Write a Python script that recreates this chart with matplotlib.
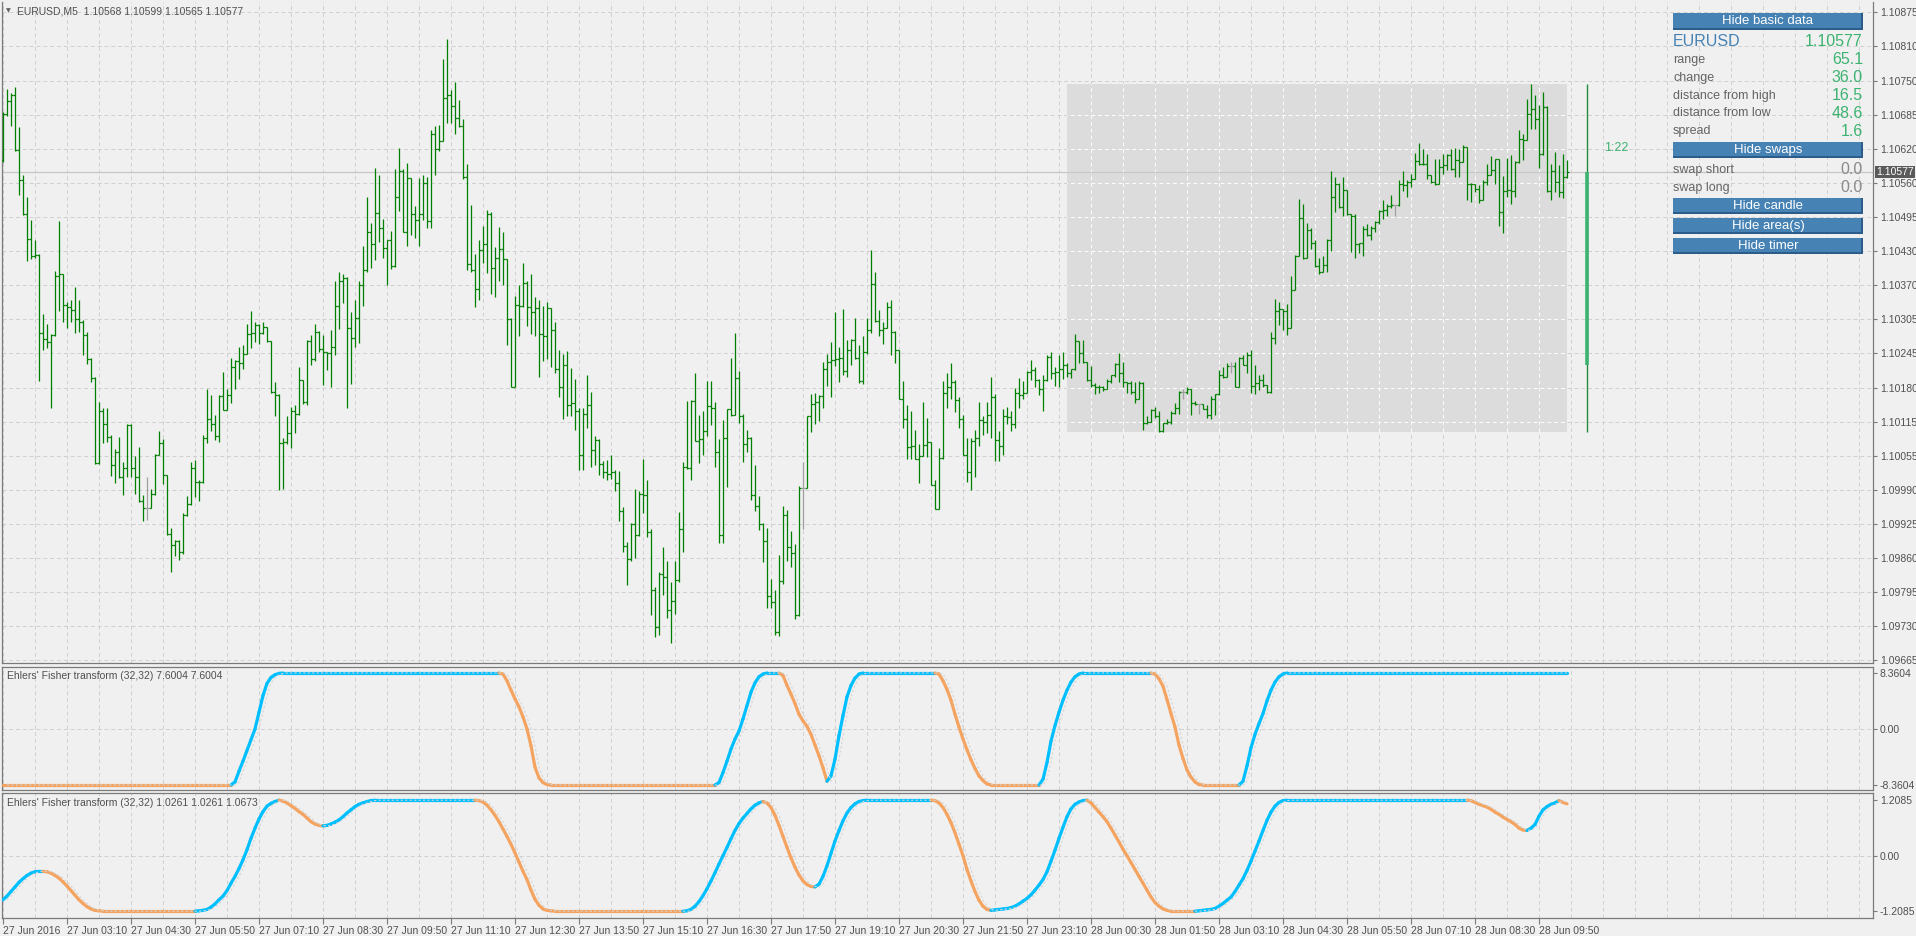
import numpy as np
import pandas as pd
import matplotlib
matplotlib.use("Agg")
import matplotlib.pyplot as plt
from matplotlib.collections import LineCollection
from matplotlib.patches import Rectangle

plt.rcParams['font.family'] = ['Liberation Sans', 'DejaVu Sans']

# --- EURUSD M5 bars, prices in points above 1.09000 (open = previous close) ---
first_open = 1600
high_pts = [
    1688, 1732, 1724, 1736, 1660, 1571, 1531, 1487, 1449, 1424,
    1312, 1293, 1274, 1392, 1486, 1387, 1335, 1338, 1362, 1338,
    1300, 1279, 1229, 1194, 1147, 1137, 1137, 1086, 1060, 1083,
    1035, 1106, 1107, 1046, 1064, 973, 1007, 985, 1050, 1093,
    1078, 1012, 912, 890, 890, 941, 972, 1035, 1039, 1001,
    1086, 1172, 1160, 1124, 1160, 1204, 1172, 1230, 1225, 1251,
    1254, 1293, 1318, 1296, 1293, 1296, 1288, 1261, 1185, 1162,
    1081, 1121, 1139, 1141, 1213, 1189, 1264, 1273, 1293, 1280,
    1273, 1240, 1282, 1373, 1390, 1387, 1381, 1316, 1337, 1373,
    1438, 1531, 1482, 1584, 1572, 1490, 1449, 1466, 1582, 1622,
    1582, 1593, 1566, 1514, 1566, 1572, 1568, 1656, 1663, 1665,
    1788, 1826, 1729, 1744, 1712, 1675, 1591, 1515, 1424, 1450,
    1476, 1505, 1503, 1437, 1474, 1464, 1414, 1305, 1346, 1365,
    1407, 1373, 1387, 1343, 1338, 1327, 1335, 1323, 1297, 1245,
    1238, 1242, 1211, 1191, 1136, 1136, 1197, 1166, 1084, 1078,
    1037, 1039, 1048, 1020, 1019, 951, 887, 921, 985, 981,
    1042, 1002, 911, 802, 830, 877, 850, 812, 850, 943,
    1035, 1149, 1151, 1201, 1124, 1131, 1186, 1186, 1147, 1078,
    1113, 1134, 1229, 1277, 1206, 1125, 1095, 1083, 1030, 972,
    922, 913, 818, 797, 862, 954, 946, 907, 883, 991,
    1035, 1122, 1162, 1164, 1160, 1223, 1238, 1259, 1316, 1251,
    1321, 1263, 1265, 1305, 1254, 1270, 1305, 1432, 1390, 1320,
    1297, 1335, 1338, 1280, 1245, 1186, 1141, 1130, 1096, 1069,
    1147, 1118, 1073, 1002, 1061, 1187, 1201, 1221, 1188, 1156,
    1124, 1080, 1080, 1096, 1148, 1122, 1147, 1194, 1163, 1093,
    1135, 1139, 1130, 1174, 1192, 1186, 1206, 1226, 1212, 1191,
    1198, 1235, 1240, 1212, 1236, 1240, 1221, 1210, 1274, 1259,
    1263, 1221, 1215, 1183, 1179, 1177, 1191, 1198, 1220, 1239,
    1222, 1184, 1186, 1184, 1186, 1184, 1122, 1134, 1139, 1130,
    1109, 1115, 1130, 1145, 1168, 1172, 1175, 1171, 1149, 1143,
    1141, 1141, 1159, 1162, 1207, 1212, 1221, 1222, 1222, 1232,
    1235, 1241, 1245, 1217, 1197, 1200, 1180, 1278, 1339, 1335,
    1321, 1330, 1382, 1422, 1527, 1517, 1481, 1473, 1449, 1417,
    1420, 1451, 1578, 1567, 1557, 1568, 1544, 1497, 1498, 1445,
    1476, 1479, 1476, 1486, 1506, 1525, 1517, 1533, 1516, 1561,
    1578, 1561, 1574, 1612, 1631, 1620, 1610, 1572, 1601, 1601,
    1610, 1610, 1620, 1622, 1619, 1627, 1619, 1557, 1555, 1553,
    1561, 1591, 1607, 1602, 1602, 1569, 1603, 1609, 1597, 1656,
    1647, 1714, 1742, 1721, 1702, 1726, 1700, 1591, 1614, 1590,
    1611, 1599]
low_pts = [
    1595, 1681, 1662, 1616, 1533, 1496, 1410, 1415, 1417, 1186,
    1245, 1248, 1137, 1270, 1318, 1297, 1285, 1297, 1277, 1278,
    1236, 1219, 1185, 1031, 1031, 1071, 1073, 1010, 996, 1005,
    974, 1008, 1008, 976, 961, 926, 928, 950, 973, 1051,
    995, 900, 831, 860, 852, 864, 935, 955, 970, 963,
    996, 1071, 1093, 1077, 1072, 1133, 1134, 1145, 1172, 1191,
    1209, 1245, 1248, 1259, 1255, 1274, 1259, 1164, 1121, 984,
    985, 1069, 1061, 1090, 1124, 1144, 1142, 1217, 1224, 1241,
    1179, 1207, 1175, 1236, 1283, 1333, 1136, 1182, 1250, 1258,
    1327, 1390, 1397, 1413, 1447, 1417, 1365, 1396, 1400, 1504,
    1464, 1438, 1460, 1453, 1438, 1487, 1472, 1472, 1572, 1616,
    1634, 1669, 1669, 1648, 1660, 1563, 1394, 1390, 1324, 1338,
    1407, 1388, 1349, 1344, 1373, 1365, 1254, 1175, 1175, 1270,
    1324, 1289, 1274, 1270, 1195, 1224, 1227, 1213, 1202, 1156,
    1116, 1121, 1122, 1096, 1020, 1020, 1099, 1027, 1030, 1012,
    1005, 1001, 1004, 982, 925, 868, 805, 850, 856, 898,
    941, 896, 750, 708, 712, 788, 744, 697, 751, 811,
    868, 1023, 1001, 1075, 1034, 1049, 1084, 1105, 1026, 884,
    885, 989, 1122, 1124, 1109, 1036, 1054, 964, 944, 908,
    849, 763, 763, 713, 710, 808, 850, 840, 742, 748,
    911, 992, 1092, 1107, 1112, 1136, 1177, 1156, 1215, 1185,
    1198, 1194, 1216, 1228, 1183, 1182, 1238, 1277, 1297, 1270,
    1255, 1288, 1235, 1221, 1154, 1099, 1042, 1042, 1041, 997,
    1046, 1045, 993, 947, 948, 1042, 1137, 1153, 1128, 1099,
    1048, 999, 984, 1008, 1065, 1086, 1090, 1080, 1037, 1037,
    1049, 1107, 1093, 1099, 1136, 1154, 1175, 1189, 1175, 1160,
    1131, 1187, 1191, 1177, 1175, 1191, 1194, 1192, 1207, 1221,
    1221, 1187, 1175, 1163, 1164, 1168, 1175, 1183, 1194, 1184,
    1175, 1164, 1162, 1145, 1153, 1096, 1107, 1111, 1118, 1091,
    1092, 1107, 1107, 1126, 1126, 1154, 1162, 1124, 1141, 1126,
    1134, 1118, 1116, 1124, 1160, 1192, 1194, 1201, 1175, 1175,
    1217, 1202, 1164, 1162, 1169, 1175, 1164, 1164, 1255, 1291,
    1282, 1272, 1312, 1356, 1420, 1415, 1419, 1434, 1400, 1387,
    1390, 1390, 1430, 1502, 1510, 1495, 1497, 1428, 1416, 1426,
    1420, 1457, 1449, 1464, 1479, 1489, 1495, 1510, 1495, 1514,
    1542, 1531, 1548, 1563, 1590, 1590, 1563, 1557, 1552, 1557,
    1574, 1581, 1580, 1567, 1567, 1599, 1525, 1521, 1540, 1519,
    1529, 1553, 1571, 1555, 1476, 1463, 1531, 1517, 1530, 1593,
    1599, 1639, 1658, 1658, 1584, 1609, 1539, 1525, 1540, 1530,
    1529, 1565]
close_pts = [
    1686, 1709, 1721, 1618, 1561, 1498, 1451, 1420, 1422, 1277,
    1265, 1259, 1272, 1382, 1386, 1329, 1324, 1319, 1303, 1296,
    1272, 1227, 1192, 1033, 1131, 1107, 1083, 1029, 1054, 1007,
    1024, 1105, 1025, 1008, 963, 950, 950, 976, 1049, 1071,
    1011, 902, 881, 888, 867, 936, 957, 1025, 998, 999,
    1081, 1115, 1106, 1084, 1159, 1133, 1160, 1213, 1224, 1221,
    1238, 1274, 1277, 1292, 1277, 1288, 1261, 1166, 1160, 1071,
    1073, 1090, 1131, 1125, 1189, 1147, 1262, 1227, 1279, 1247,
    1240, 1239, 1251, 1327, 1373, 1379, 1286, 1267, 1305, 1365,
    1394, 1464, 1443, 1501, 1473, 1435, 1449, 1401, 1530, 1578,
    1464, 1566, 1498, 1487, 1498, 1557, 1486, 1648, 1620, 1634,
    1715, 1721, 1700, 1677, 1662, 1567, 1406, 1393, 1359, 1432,
    1443, 1499, 1397, 1416, 1434, 1414, 1303, 1175, 1329, 1326,
    1369, 1324, 1315, 1323, 1274, 1270, 1323, 1282, 1209, 1175,
    1216, 1142, 1145, 1131, 1048, 1125, 1141, 1057, 1077, 1031,
    1017, 1014, 1017, 996, 944, 878, 855, 919, 900, 975,
    973, 905, 797, 727, 827, 821, 760, 776, 815, 911,
    1026, 1025, 1150, 1075, 1078, 1093, 1140, 1137, 1054, 900,
    1080, 1134, 1124, 1192, 1121, 1069, 1080, 973, 954, 920,
    888, 786, 774, 719, 814, 936, 876, 865, 749, 987,
    987, 1122, 1144, 1148, 1159, 1210, 1223, 1225, 1227, 1230,
    1206, 1244, 1264, 1230, 1186, 1240, 1282, 1368, 1299, 1282,
    1285, 1324, 1278, 1245, 1154, 1116, 1063, 1066, 1042, 1046,
    1067, 1072, 993, 947, 1043, 1164, 1175, 1185, 1151, 1115,
    1048, 1017, 1075, 1081, 1113, 1111, 1124, 1157, 1077, 1065,
    1122, 1120, 1107, 1164, 1160, 1164, 1204, 1207, 1189, 1172,
    1189, 1232, 1201, 1203, 1209, 1217, 1201, 1209, 1262, 1239,
    1222, 1189, 1179, 1175, 1176, 1172, 1187, 1197, 1219, 1202,
    1184, 1183, 1166, 1154, 1183, 1109, 1111, 1133, 1122, 1093,
    1109, 1111, 1127, 1136, 1166, 1166, 1171, 1145, 1143, 1143,
    1134, 1124, 1153, 1162, 1198, 1195, 1215, 1215, 1175, 1230,
    1217, 1236, 1177, 1183, 1188, 1179, 1166, 1267, 1318, 1321,
    1318, 1286, 1356, 1420, 1491, 1417, 1468, 1445, 1401, 1390,
    1403, 1449, 1531, 1555, 1511, 1544, 1498, 1495, 1443, 1444,
    1470, 1460, 1472, 1483, 1504, 1506, 1513, 1516, 1516, 1554,
    1552, 1558, 1563, 1597, 1591, 1592, 1571, 1559, 1555, 1587,
    1589, 1609, 1582, 1600, 1596, 1624, 1555, 1554, 1546, 1524,
    1559, 1571, 1580, 1601, 1502, 1542, 1544, 1542, 1595, 1639,
    1637, 1685, 1695, 1675, 1610, 1698, 1542, 1578, 1559, 1539,
    1568, 1577]

start_time = '2016-06-27 01:50'
day_start = 266          # first bar of 28 Jun
spread = 1.6
swap_short = 0.0
swap_long = 0.0
timer_text = '1:22'

# Ehlers' Fisher transform (32,32), two copies with different scaling
fisher_a = ([-8.3604] * 58
            + [-7.9, -6.3, -4.8, -3.2, -1.6, 0.0, 2.5, 5.0, 6.8, 7.7, 8.1, 8.3]
            + [8.3604] * 55
            + [8.2, 7.2, 5.8, 4.5, 3.3, 1.8, 0.0, -2.5, -5.7, -7.3, -8.0, -8.3]
            + [-8.3604] * 42
            + [-8.0, -6.5, -4.8, -3.0, -1.5, -0.3, 1.5, 3.5, 5.5, 6.9, 7.8, 8.2]
            + [8.3604] * 4
            + [8.0, 6.5, 5.2, 3.8, 2.2, 1.2, 0.4, -0.8, -2.4, -4.0, -5.8, -7.8]
            + [-7.0, -4.5, -1.0, 2.0, 4.8, 6.5, 7.6, 8.2]
            + [8.3604] * 19
            + [8.2, 7.2, 5.9, 4.3, 2.2, 0.3, -1.5, -3.1, -4.6, -5.9, -7.0, -7.7, -8.2]
            + [-8.3604] * 13
            + [-7.5, -5.0, -1.8, 0.5, 2.5, 4.3, 5.8, 7.0, 7.8, 8.2]
            + [8.3604] * 18
            + [8.2, 7.5, 6.4, 4.4, 2.3, 0.3, -2.4, -4.4, -6.1, -7.2, -7.9, -8.3]
            + [-8.3604] * 10
            + [-7.8, -5.5, -2.8, -0.8, 0.8, 2.3, 4.2, 5.8, 7.0, 7.8, 8.2]
            + [8.3604] * 71)
fisher_b = ([-0.96, -0.88, -0.78, -0.68, -0.58, -0.5, -0.43, -0.38, -0.35, -0.34,
             -0.34, -0.35, -0.38, -0.43, -0.49, -0.57, -0.66, -0.76, -0.86, -0.96,
             -1.04, -1.11, -1.16, -1.19, -1.2]
            + [-1.2085] * 24
            + [-1.2, -1.19, -1.17, -1.12, -1.05, -0.96, -0.88, -0.76, -0.6, -0.45,
               -0.28, -0.09, 0.13, 0.38, 0.6, 0.8, 0.96, 1.08, 1.14, 1.18, 1.2085]
            + [1.19, 1.15, 1.09, 1.03, 0.96, 0.9, 0.82, 0.74, 0.69, 0.66, 0.65]
            + [0.66, 0.69, 0.73, 0.78, 0.85, 0.93, 1.0, 1.07, 1.12, 1.15, 1.18, 1.2]
            + [1.2085] * 26
            + [1.2, 1.17, 1.1, 1.0, 0.88, 0.74, 0.58, 0.42, 0.25, 0.06, -0.14, -0.34,
               -0.52, -0.75, -0.95, -1.08, -1.16, -1.19, -1.2]
            + [-1.2085] * 33
            + [-1.2, -1.17, -1.1, -1.0, -0.87, -0.72, -0.55, -0.37, -0.18, 0.0,
               0.18, 0.37, 0.55, 0.7, 0.82, 0.92, 1.02, 1.1, 1.15, 1.18]
            + [1.15, 1.05, 0.88, 0.66, 0.42, 0.18, -0.05, -0.25, -0.42, -0.55,
               -0.63, -0.67, -0.68, -0.62, -0.45, -0.22, 0.05, 0.32, 0.55, 0.76,
               0.93, 1.05, 1.13, 1.18, 1.2]
            + [1.2085] * 17
            + [1.2, 1.15, 1.05, 0.9, 0.72, 0.5, 0.25, 0.0, -0.3, -0.55, -0.78, -0.97,
               -1.1, -1.17, -1.19]
            + [-1.18, -1.17, -1.16, -1.15, -1.13, -1.1, -1.05, -0.99, -0.93, -0.85,
               -0.75, -0.64, -0.52, -0.35, -0.12, 0.12, 0.38, 0.62, 0.85, 1.02,
               1.12, 1.17, 1.2]
            + [1.2085]
            + [1.15, 1.05, 0.95, 0.85, 0.74, 0.6, 0.45, 0.3, 0.14, 0.0, -0.15, -0.3,
               -0.45, -0.6, -0.75, -0.9, -1.02, -1.1, -1.16, -1.19]
            + [-1.2085] * 7
            + [-1.2, -1.19, -1.18, -1.17, -1.15, -1.1, -1.04, -0.97, -0.9, -0.78,
               -0.64, -0.5, -0.32, -0.12, 0.1, 0.32, 0.55, 0.77, 0.95, 1.08, 1.16, 1.2]
            + [1.2085] * 46
            + [1.2, 1.16, 1.12, 1.09, 1.06, 1.01, 0.95, 0.9, 0.84, 0.79, 0.74, 0.68,
               0.6, 0.56, 0.55, 0.6, 0.68, 0.86, 1.0, 1.07, 1.12, 1.15, 1.2, 1.16, 1.13])

main_tick_labels = ['1.10875', '1.10810', '1.10750', '1.10685', '1.10620', '1.10560',
                    '1.10495', '1.10430', '1.10370', '1.10305', '1.10245', '1.10180',
                    '1.10115', '1.10055', '1.09990', '1.09925', '1.09860', '1.09795',
                    '1.09730', '1.09665']

# --- prepare ---
n = len(close_pts)
x = np.arange(n)
to_price = lambda a: 1.09 + np.asarray(a, dtype=float) / 1e5
open_pts = [first_open] + close_pts[:-1]
op, hi, lo, cl = to_price(open_pts), to_price(high_pts), to_price(low_pts), to_price(close_pts)
hi_d = np.maximum.reduce([hi, op, cl])
lo_d = np.minimum.reduce([lo, op, cl])
bar_col = np.where(np.array(open_pts) == np.array(close_pts), '#a0a0a0', '#008000')

day_hi_pts = max(high_pts[day_start:])
day_lo_pts = min(low_pts[day_start:])
day_open_pts = open_pts[day_start]
last = close_pts[-1]

times = pd.date_range(start_time, periods=n, freq='5min')

BG = '#f0f0f0'
GRID = '#cfcfcf'
SPINE = '#7a7a7a'
TXT = '#505050'
W, H = 1916, 936

fig = plt.figure(figsize=(W / 100, H / 100), dpi=100, facecolor=BG)


def rect(l, t, r, b):
    return [l / W, 1 - b / H, (r - l) / W, (b - t) / H]


ax = fig.add_axes(rect(2, 2, 1873, 663))
ax1 = fig.add_axes(rect(2, 667, 1873, 790))
ax2 = fig.add_axes(rect(2, 793, 1873, 918))

xmin, xmax = -0.25, 467.5
grid_x = np.arange(0, xmax, 8)
for a in (ax, ax1, ax2):
    a.set_facecolor(BG)
    a.set_xlim(xmin, xmax)
    for s in a.spines.values():
        s.set_color(SPINE)
        s.set_linewidth(0.9)
    a.yaxis.tick_right()
    a.tick_params(axis='y', direction='out', length=3, pad=2, labelsize=7.5,
                  labelcolor=TXT, color=SPINE)
    for g in grid_x:
        a.axvline(g, color=GRID, lw=0.7, ls=(0, (4, 3)), zorder=1)
ax.spines['top'].set_visible(False)

# --- main price chart ---
ax.set_ylim(1.096603, 1.108942)
yt = np.linspace(1.10875, 1.09665, len(main_tick_labels))
ax.set_yticks(yt)
ax.set_yticklabels(main_tick_labels)
ax.set_xticks([])
for y in yt:
    ax.axhline(y, color=GRID, lw=0.7, ls=(0, (4, 3)), zorder=1)

day_rect = Rectangle((day_start, to_price(day_lo_pts)), (n - 1) - day_start,
                     to_price(day_hi_pts) - to_price(day_lo_pts),
                     facecolor='#dcdcdc', edgecolor='none', zorder=0.5)
ax.add_patch(day_rect)
for g in grid_x:
    ln = ax.axvline(g, color='white', lw=0.7, ls=(0, (4, 3)), zorder=1.1)
    ln.set_clip_path(day_rect)
for y in yt:
    ln = ax.axhline(y, color='white', lw=0.7, ls=(0, (4, 3)), zorder=1.1)
    ln.set_clip_path(day_rect)

ax.axhline(to_price(last), color='#c8c8c8', lw=0.9, zorder=1.5)

ax.vlines(x, lo_d, hi_d, colors=bar_col, lw=0.9, zorder=3)
ax.hlines(op, x - 0.45, x, colors=bar_col, lw=0.9, zorder=3)
ax.hlines(cl, x, x + 0.45, colors=bar_col, lw=0.9, zorder=3)

# daily candle drawn right of the last bar
cx = n - 1 + 5
ax.vlines(cx, to_price(day_lo_pts), to_price(day_hi_pts), colors='#1f8a3c', lw=1.0, zorder=3)
ax.vlines(cx, to_price(day_open_pts), to_price(last), colors='#3cb371', lw=2.6, zorder=3)

ax.annotate(f'{to_price(last):.5f}', xy=(1, to_price(last)),
            xycoords=('axes fraction', 'data'), xytext=(2.5, 0), textcoords='offset points',
            va='center', ha='left', fontsize=7.5, color='white', annotation_clip=False,
            bbox=dict(boxstyle='square,pad=0.12', fc='#5a5a5a', ec='none'))


# --- Fisher transform panels ---
def fisher_panel(a, vals, lim, ylim, start_up):
    v = np.asarray(vals, dtype=float)
    segs, cols = [], []
    up = start_up
    for i in range(1, len(v)):
        if v[i] > v[i - 1]:
            up = True
        elif v[i] < v[i - 1]:
            up = False
        segs.append([(i - 1, v[i - 1]), (i, v[i])])
        cols.append('#00bfff' if up else '#f4a460')
    a.add_collection(LineCollection(segs, colors=cols, linewidths=2.3,
                                    capstyle='round', zorder=3))
    a.plot(np.arange(1, len(v)), v[:-1], color='#d4d4d4', lw=0.8,
           ls=(0, (2, 2)), zorder=4)
    a.set_ylim(*ylim)
    a.set_yticks([lim, 0, -lim])
    a.set_yticklabels([f'{lim:.4f}', '0.00', f'{-lim:.4f}'])
    a.axhline(0, color=GRID, lw=0.7, ls=(0, (4, 3)), zorder=1)


fisher_panel(ax1, fisher_a, 8.3604, (-9.107, 9.256), False)
fisher_panel(ax2, fisher_b, 1.2085, (-1.357, 1.3656), True)
ax1.set_xticks([])

lab_idx = x[::16]
lab_txt = [t.strftime('%d %b %H:%M') for t in times[::16]]
lab_txt[0] = times[0].strftime('%d %b %Y')
ax2.set_xticks(lab_idx)
ax2.set_xticklabels(lab_txt, ha='left', fontsize=7.5, color=TXT)
ax2.tick_params(axis='x', direction='out', length=4, pad=2, color=SPINE)

# --- texts ---
fig.text(6 / W, 1 - 10.5 / H, '\u25bc', fontsize=4.5, color='#606060', va='center',
         family=['DejaVu Sans'])
fig.text(17 / W, 1 - 11 / H,
         f'EURUSD,M5  {op[-1]:.5f} {hi[-1]:.5f} {lo[-1]:.5f} {cl[-1]:.5f}',
         fontsize=7.5, color=TXT, va='center')
fig.text(7 / W, 1 - 676 / H, "Ehlers' Fisher transform (32,32) 7.6004 7.6004",
         fontsize=7.5, color=TXT, va='center')
fig.text(7 / W, 1 - 803 / H, "Ehlers' Fisher transform (32,32) 1.0261 1.0261 1.0673",
         fontsize=7.5, color=TXT, va='center')
fig.text(1604 / W, 1 - 148 / H, timer_text, fontsize=9, color='#3cb371', va='center')

# --- info panel ---
PX0, PX1 = 1673, 1863


def button(y0, y1, label):
    fig.add_artist(Rectangle((PX0 / W, 1 - y1 / H), (PX1 - PX0) / W, (y1 - y0) / H,
                             transform=fig.transFigure, fc='#4682b4', ec='none'))
    fig.add_artist(Rectangle((PX0 / W, 1 - y1 / H), (PX1 - PX0) / W, 2 / H,
                             transform=fig.transFigure, fc='#2c5d8a', ec='none'))
    fig.add_artist(Rectangle(((PX1 - 2) / W, 1 - y1 / H), 2 / W, (y1 - y0) / H,
                             transform=fig.transFigure, fc='#2c5d8a', ec='none'))
    fig.text((PX0 + PX1) / 2 / W, 1 - (y0 + y1) / 2 / H, label, color='white',
             ha='center', va='center', fontsize=9.5)


def row(y, label, value, vcol='#3cb371'):
    fig.text(PX0 / W, 1 - y / H, label, color='#646464', fontsize=9, va='center')
    fig.text(PX1 / W, 1 - y / H, value, color=vcol, fontsize=11.5, va='center', ha='right')


button(13, 30, 'Hide basic data')
fig.text(PX0 / W, 1 - 42 / H, 'EURUSD', color='#4682b4', fontsize=11.5, va='center')
fig.text(PX1 / W, 1 - 42 / H, f'{to_price(last):.5f}', color='#3cb371', fontsize=11.5,
         va='center', ha='right')
row(60, 'range', f'{(day_hi_pts - day_lo_pts) / 10:.1f}')
row(78, 'change', f'{(last - day_open_pts) / 10:.1f}')
row(96, 'distance from high', f'{(day_hi_pts - last) / 10:.1f}')
row(113, 'distance from low', f'{(last - day_lo_pts) / 10:.1f}')
row(131, 'spread', f'{spread:.1f}')
button(142, 158, 'Hide swaps')
row(170, 'swap short', f'{swap_short:.1f}', '#8a8a8a')
row(188, 'swap long', f'{swap_long:.1f}', '#8a8a8a')
button(198, 214, 'Hide candle')
button(218, 234, 'Hide area(s)')
button(238, 254, 'Hide timer')

fig.savefig('out.png', dpi=100, facecolor=BG)
